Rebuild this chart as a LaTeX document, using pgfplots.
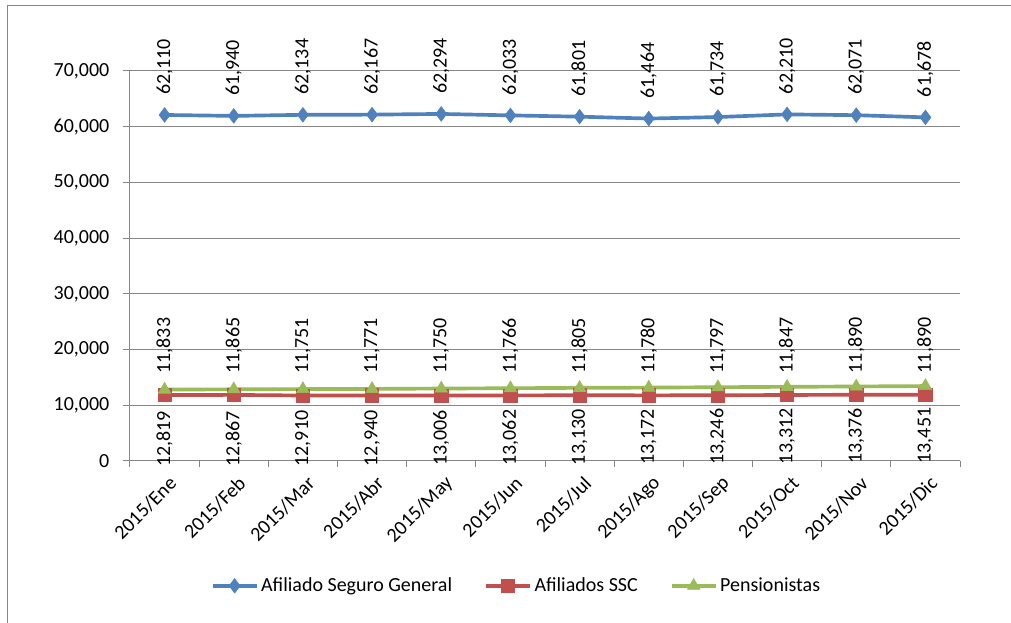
\documentclass[border=0pt]{standalone}
\usepackage{pgfplots}
\pgfplotsset{compat=1.18}
\usepackage{fontspec}
\setmainfont{Carlito}
\definecolor{sblue}{RGB}{79,129,189}
\definecolor{sred}{RGB}{192,80,77}
\definecolor{sgreen}{RGB}{155,187,89}
\definecolor{gridgray}{RGB}{134,134,134}
\newcommand{\lblfont}{\fontsize{15}{18}\selectfont}
\begin{document}
\begin{tikzpicture}
\useasboundingbox (0,0) rectangle (758.25pt,467.25pt);
\fill[white] (0,0) rectangle (758.25pt,467.25pt);
\draw[gridgray, line width=0.75pt] (5.25pt,-10pt) -- (5.25pt,462.75pt) -- (780pt,462.75pt);
\begin{axis}[
  at={(97.5pt,121.5pt)}, anchor=south west,
  scale only axis, width=622.5pt, height=292.5pt,
  xmin=-0.5, xmax=11.5, ymin=0, ymax=70000,
  axis x line=bottom, axis y line=left,
  axis line style={gridgray,-, line width=0.75pt},
  ytick={0,10000,...,70000},
  scaled y ticks=false,
  ymajorgrids, grid style={gridgray, line width=0.75pt},
  xtick={0,...,11},
  xticklabels={2015/Ene,2015/Feb,2015/Mar,2015/Abr,2015/May,2015/Jun,2015/Jul,2015/Ago,2015/Sep,2015/Oct,2015/Nov,2015/Dic},
  minor xtick={-0.5,0.5,...,11.5},
  major x tick style={draw=none},
  minor x tick style={gridgray, line width=0.75pt},
  y tick style={gridgray, line width=0.75pt},
  tick align=outside,
  major tick length=5.25pt, minor tick length=4.5pt,
  /pgf/number format/.cd, 1000 sep={,}, assume math mode=true,
  /pgfplots/.cd,
  yticklabel style={font=\lblfont, anchor=east, text=black, xshift=-6.75pt},
  xticklabel style={font=\lblfont, rotate=45, anchor=east, text=black, yshift=-11pt, xshift=1.5pt},
  legend style={at={(0.466,-0.32)}, anchor=center, draw=none, fill=none,
    legend columns=-1, font=\lblfont,
    /tikz/every even column/.append style={column sep=22pt}},
  legend image code/.code={\draw[mark repeat=2,mark phase=2,#1] plot coordinates {(0pt,0pt)(16.5pt,0pt)(33pt,0pt)};},
]
\addplot[sblue, line width=2.75pt, mark=diamond*, mark size=5.5pt,
  mark options={line width=0.4pt},
  nodes near coords,
  every node near coord/.append style={font=\lblfont, text=black, rotate=90, anchor=west, inner xsep=15pt, inner ysep=0pt}]
coordinates {(0,62110)(1,61940)(2,62134)(3,62167)(4,62294)(5,62033)(6,61801)(7,61464)(8,61734)(9,62210)(10,62071)(11,61678)};
\addlegendentry{Afiliado Seguro General}
\addplot[sred, line width=2.75pt, mark=square*, mark size=5pt,
  mark options={line width=0.4pt},
  nodes near coords,
  every node near coord/.append style={font=\lblfont, text=black, rotate=90, anchor=west, inner xsep=16pt, inner ysep=0pt}]
coordinates {(0,11833)(1,11865)(2,11751)(3,11771)(4,11750)(5,11766)(6,11805)(7,11780)(8,11797)(9,11847)(10,11890)(11,11890)};
\addlegendentry{Afiliados SSC}
\addplot[sgreen, line width=2.75pt, mark=triangle*, mark size=5.5pt,
  mark options={line width=0.4pt},
  nodes near coords,
  every node near coord/.append style={font=\lblfont, text=black, rotate=90, anchor=east, inner xsep=16pt, inner ysep=0pt}]
coordinates {(0,12819)(1,12867)(2,12910)(3,12940)(4,13006)(5,13062)(6,13130)(7,13172)(8,13246)(9,13312)(10,13376)(11,13451)};
\addlegendentry{Pensionistas}
\end{axis}
\end{tikzpicture}
\end{document}
